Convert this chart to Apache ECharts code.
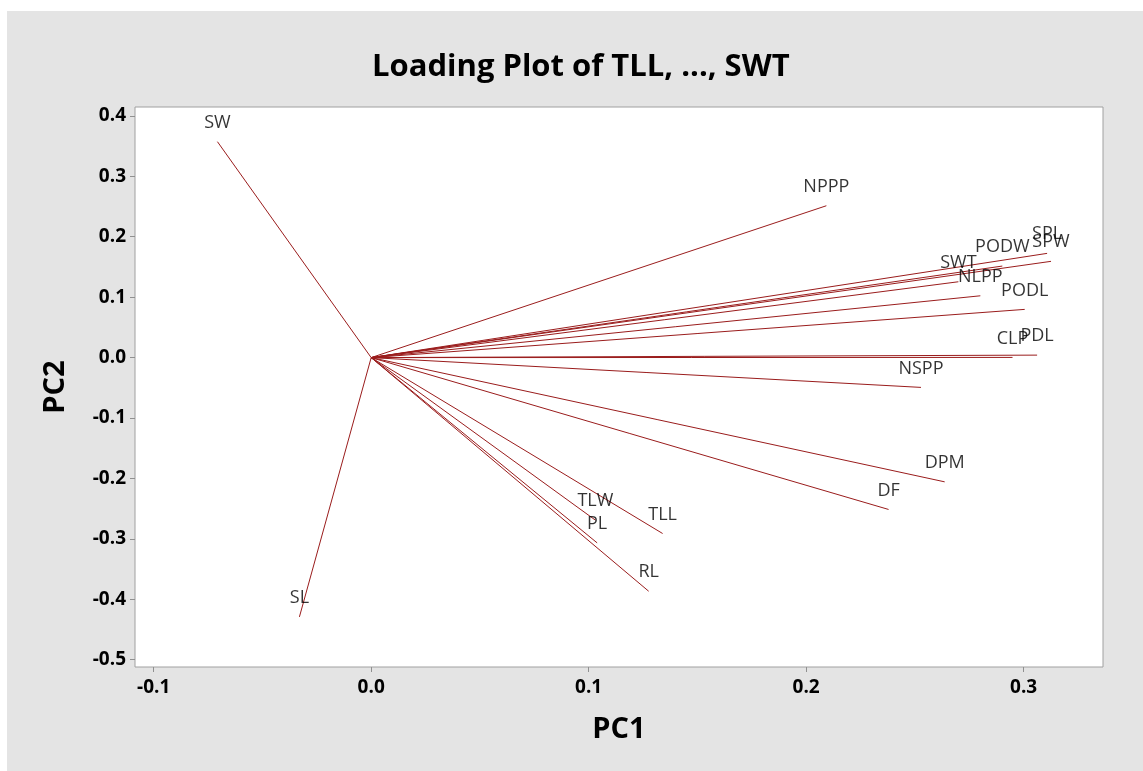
<!DOCTYPE html>
<html>
<head>
<meta charset="utf-8">
<script src="https://cdn.jsdelivr.net/npm/echarts@6/dist/echarts.min.js"></script>
<style>
  html, body { margin: 0; padding: 0; background: #ffffff; }
  #bg { position: absolute; left: 7px; top: 11px; right: 0; bottom: 0; background: #e4e4e4; }
  #chart { position: absolute; left: 0; top: 0; width: 1143px; height: 771px; }
</style>
</head>
<body>
<div id="bg"></div>
<div id="chart"></div>
<script>
// Variable names and loadings (PC1, PC2)
const variables = ['SW','SL','NPPP','SPL','SPW','PODW','SWT','NLPP','PODL','PDL','CLP','NSPP','DPM','DF','TLL','TLW','PL','RL'];
const pc1 = [-0.0707, -0.0330, 0.2093, 0.3108, 0.3126, 0.2902, 0.2700, 0.2801, 0.3005, 0.3062, 0.2949, 0.2528, 0.2637, 0.2379, 0.1340, 0.1031, 0.1039, 0.1276];
const pc2 = [0.3573, -0.4291, 0.2513, 0.1725, 0.1593, 0.1515, 0.1255, 0.1023, 0.0798, 0.0041, 0.0003, -0.0493, -0.2056, -0.2513, -0.2911, -0.2690, -0.3066, -0.3866];
const xTicks = [-0.1, 0.0, 0.1, 0.2, 0.3];
const yTicks = [0.4, 0.3, 0.2, 0.1, 0.0, -0.1, -0.2, -0.3, -0.4, -0.5];

const lineColor = '#9a1c1c';
const font = '"Open Sans", "Noto Sans", sans-serif';

const series = variables.map((v, i) => ({
  type: 'line',
  data: [[0, 0], [pc1[i], pc2[i]]],
  symbol: 'none',
  lineStyle: { color: lineColor, width: 1 },
  silent: true,
  z: 2
}));
series.push({
  type: 'scatter',
  data: variables.map((v, i) => ({ value: [pc1[i], pc2[i]], name: v })),
  symbolSize: 0,
  label: {
    show: true,
    position: 'top',
    distance: 10,
    formatter: p => p.name,
    color: '#000',
    fontFamily: font,
    fontSize: 18
  },
  silent: true,
  z: 3
});

const chart = echarts.init(document.getElementById('chart'), null, { renderer: 'canvas' });
chart.setOption({
  animation: false,
  backgroundColor: 'transparent',
  title: {
    text: 'Loading Plot of TLL, ..., SWT',
    left: 367,
    top: 47,
    textStyle: { fontFamily: font, fontWeight: 'bold', fontSize: 31, color: '#000' }
  },
  grid: {
    left: 135, right: 40, top: 107, bottom: 104,
    show: true, backgroundColor: '#ffffff', borderColor: '#a0a0a0', borderWidth: 1
  },
  xAxis: {
    type: 'value',
    min: -0.1086, max: 0.3365,
    name: 'PC1',
    nameLocation: 'middle',
    nameGap: 48,
    nameTextStyle: { fontFamily: font, fontWeight: 'bold', fontSize: 29, color: '#000' },
    axisLine: { show: false, onZero: false },
    splitLine: { show: false },
    axisTick: { show: true, length: 5, lineStyle: { color: '#909090' }, customValues: xTicks },
    axisLabel: {
      customValues: xTicks,
      formatter: v => v.toFixed(1),
      fontFamily: font, fontWeight: 'bold', fontSize: 19, color: '#000', margin: 11
    }
  },
  yAxis: {
    type: 'value',
    min: -0.512, max: 0.4147,
    name: 'PC2',
    nameLocation: 'middle',
    nameGap: 65,
    nameRotate: 90,
    nameTextStyle: { fontFamily: font, fontWeight: 'bold', fontSize: 29, color: '#000' },
    axisLine: { show: false, onZero: false },
    splitLine: { show: false },
    axisTick: { show: true, length: 5, lineStyle: { color: '#909090' }, customValues: yTicks },
    axisLabel: {
      customValues: yTicks,
      formatter: v => v.toFixed(1),
      fontFamily: font, fontWeight: 'bold', fontSize: 19, color: '#000', margin: 9
    }
  },
  series: series
});
</script>
</body>
</html>
